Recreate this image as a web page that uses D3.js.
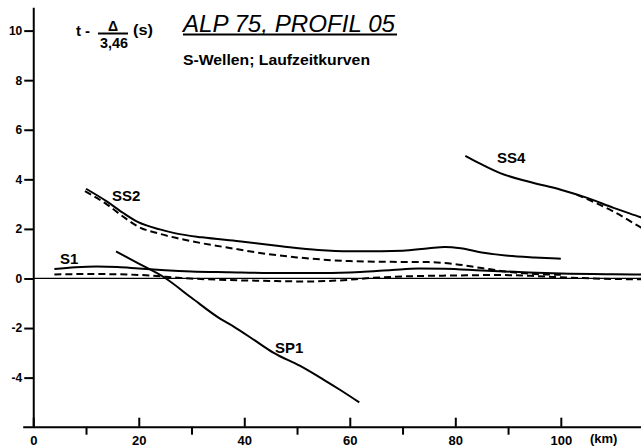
<!DOCTYPE html>
<html lang="de">
<head>
<meta charset="utf-8">
<title>ALP 75, Profil 05 - S-Wellen</title>
<script src="https://d3js.org/d3.v7.min.js"></script>
<style>
  body { margin: 0; background: #fff; }
  svg { display: block; font-family: "Liberation Sans", Arial, sans-serif; }
  .axis path, .axis line { stroke: #000; stroke-width: 2; }
  .axis text { fill: #000; font-weight: bold; }
  .curve { fill: none; stroke: #000; stroke-width: 2; }
  .dashed { stroke-dasharray: 7 4; }
  .lbl { font-size: 15px; font-weight: bold; fill: #000; }
</style>
</head>
<body>
<svg id="chart" width="641" height="448"></svg>
<script>
// travel-time curves, reduced time t - D/3.46 (s) against distance (km)
// solid = observed, dashed = model
var ss2Km   = [10, 14, 17, 20, 24, 27, 32, 39, 47, 54, 60, 66, 70, 75, 78, 81, 85, 90, 95, 100];
var ss2Obs  = [3.62, 3.1, 2.65, 2.26, 1.98, 1.82, 1.66, 1.5, 1.3, 1.15, 1.1, 1.1, 1.12, 1.22, 1.27, 1.22, 1.05, 0.92, 0.85, 0.8];
var ss2DKm  = [9.8, 14, 17, 20, 24, 27, 32, 37, 44, 50, 55, 60, 68, 75, 80, 85, 90, 95, 100];
var ss2Calc = [3.52, 2.98, 2.5, 2.08, 1.8, 1.64, 1.42, 1.24, 1.0, 0.85, 0.76, 0.7, 0.67, 0.66, 0.58, 0.42, 0.27, 0.18, 0.15];

var s1Km    = [4, 8, 12, 16, 20, 25, 30, 37, 45, 55, 62, 68, 73, 78, 85, 92, 100, 110, 117];
var s1Obs   = [0.38, 0.45, 0.48, 0.46, 0.4, 0.33, 0.28, 0.25, 0.22, 0.22, 0.26, 0.34, 0.4, 0.39, 0.32, 0.26, 0.2, 0.17, 0.16];
var s1DKm   = [4, 10, 16, 22, 28, 35, 45, 52, 58, 64, 70, 80, 88, 95, 102, 110, 117];
var s1Calc  = [0.16, 0.18, 0.17, 0.12, 0.02, -0.05, -0.1, -0.12, -0.08, 0.02, 0.08, 0.12, 0.14, 0.1, 0.03, -0.02, -0.04];

var sp1Km   = [15.7, 20, 25, 30, 35.4, 38, 42, 45.5, 50.6, 55, 58.2, 61.8];
var sp1Obs  = [1.09, 0.6, 0.02, -0.78, -1.62, -1.94, -2.5, -2.99, -3.53, -4.08, -4.5, -5.0];

var ss4Km   = [81.9, 85, 88.5, 94, 100, 105, 110, 115, 117];
var ss4Obs  = [4.95, 4.6, 4.25, 3.9, 3.58, 3.25, 2.85, 2.48, 2.33];
var ss4DKm  = [103, 106.3, 110, 115, 117];
var ss4Calc = [3.38, 3.08, 2.7, 2.08, 1.85];

var yTicks = [-4, -2, 0, 2, 4, 6, 8, 10];
var xTicks = [0, 20, 40, 60, 80, 100];
var xMinor = [10, 30, 50, 70, 90];

var svg = d3.select('#chart');

var x = d3.scaleLinear().domain([-2, 115.2]).range([22.7, 641]);
var y = d3.scaleLinear().domain([-5.98, 10.94]).range([426.7, 7.3]);

function zip(xs, ys) {
    return xs.map(function(k, i) { return [k, ys[i]]; });
}

var line = d3.line()
    .x(function(d) { return x(d[0]); })
    .y(function(d) { return y(d[1]); })
    .curve(d3.curveMonotoneX);

//zero line
svg.append('line')
    .attr('x1', x(0)).attr('x2', 641)
    .attr('y1', y(0)).attr('y2', y(0))
    .attr('stroke', '#000').attr('stroke-width', 1.3);

//Y axis
svg.append('g')
    .attr('class', 'axis')
    .attr('transform', 'translate(' + x(0) + ',0)')
    .call(d3.axisLeft(y).tickValues(yTicks).tickSize(9).tickSizeOuter(0).tickPadding(2)
            .tickFormat(function(d) { return String(d); }))
    .selectAll('text').style('font-size', '12px');

//X axis, major ticks point up
svg.append('g')
    .attr('class', 'axis')
    .attr('transform', 'translate(0,' + y(-5.98) + ')')
    .call(d3.axisBottom(x).tickValues(xTicks).tickSize(-9).tickSizeOuter(0).tickPadding(9))
    .selectAll('text').style('font-size', '13px');

//minor ticks point down
var minor = svg.append('g')
    .attr('class', 'axis')
    .attr('transform', 'translate(0,' + y(-5.98) + ')')
    .call(d3.axisBottom(x).tickValues(xMinor).tickSize(8).tickFormat(''));
minor.select('.domain').remove();

svg.append('text')
    .attr('x', 590).attr('y', 443)
    .style('font-size', '13px').style('font-weight', 'bold')
    .text('(km)');

//curves
var curves = [
    [zip(ss2Km, ss2Obs), false],
    [zip(ss2DKm, ss2Calc), true],
    [zip(s1Km, s1Obs), false],
    [zip(s1DKm, s1Calc), true],
    [zip(sp1Km, sp1Obs), false],
    [zip(ss4Km, ss4Obs), false],
    [zip(ss4DKm, ss4Calc), true]
];
svg.selectAll('path.curve')
    .data(curves)
    .enter()
    .append('path')
    .attr('class', function(d) { return d[1] ? 'curve dashed' : 'curve'; })
    .attr('d', function(d) { return line(d[0]); });

//curve names
var names = [['SS2', 112, 201], ['S1', 60, 264], ['SP1', 275, 353], ['SS4', 497, 163]];
svg.selectAll('text.lbl')
    .data(names)
    .enter()
    .append('text')
    .attr('class', 'lbl')
    .attr('x', function(d) { return d[1]; })
    .attr('y', function(d) { return d[2]; })
    .text(function(d) { return d[0]; });

//title
svg.append('text')
    .attr('x', 183).attr('y', 31.5)
    .attr('textLength', 212).attr('lengthAdjust', 'spacingAndGlyphs')
    .style('font-size', '23px').style('font-style', 'italic')
    .text('ALP 75, PROFIL 05');
svg.append('line')
    .attr('x1', 183).attr('x2', 397).attr('y1', 34.5).attr('y2', 34.5)
    .attr('stroke', '#000').attr('stroke-width', 2);
svg.append('text')
    .attr('x', 183).attr('y', 65)
    .attr('textLength', 187).attr('lengthAdjust', 'spacingAndGlyphs')
    .style('font-size', '14px').style('font-weight', 'bold')
    .text('S-Wellen; Laufzeitkurven');

//y label  t - D/3,46 (s)
var yl = svg.append('g').style('font-weight', 'bold');
yl.append('text').attr('x', 76).attr('y', 36).style('font-size', '15px').text('t');
yl.append('text').attr('x', 85).attr('y', 36).style('font-size', '15px').text('-');
yl.append('text').attr('x', 108).attr('y', 31).style('font-size', '14px').text('Δ');
yl.append('line').attr('x1', 98).attr('x2', 128).attr('y1', 33.5).attr('y2', 33.5)
    .attr('stroke', '#000').attr('stroke-width', 2);
yl.append('text').attr('x', 100).attr('y', 47.5)
    .attr('textLength', 28).attr('lengthAdjust', 'spacingAndGlyphs')
    .style('font-size', '15px').text('3,46');
yl.append('text').attr('x', 133).attr('y', 35)
    .attr('textLength', 20).attr('lengthAdjust', 'spacingAndGlyphs')
    .style('font-size', '15px').text('(s)');
</script>
</body>
</html>
